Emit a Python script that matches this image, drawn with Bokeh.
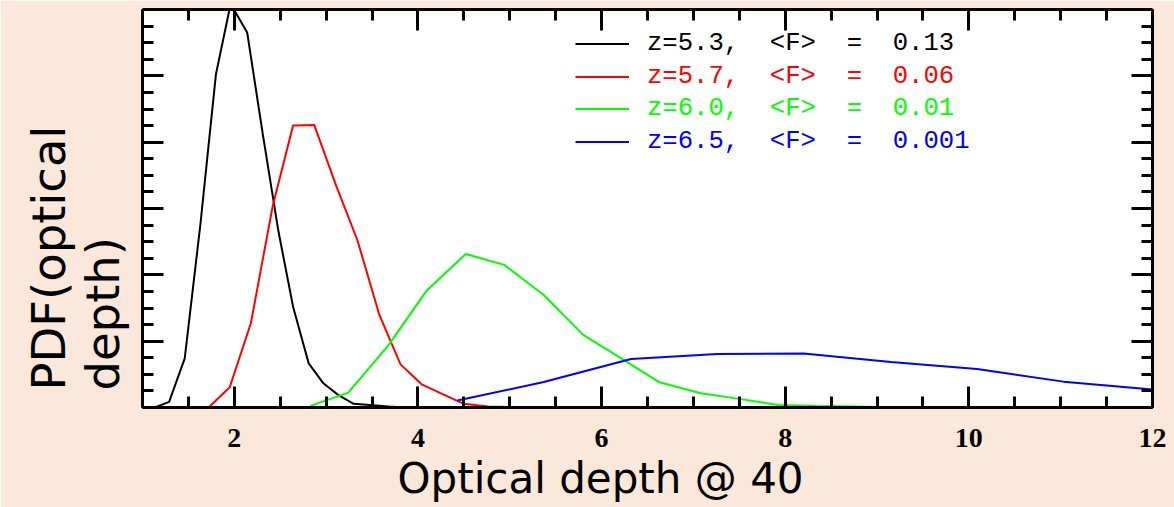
import math
from bokeh.plotting import figure
from bokeh.models import (Range1d, LinearAxis, BoxAnnotation, Title, Legend,
                          LegendItem, SingleIntervalTicker)
from bokeh.embed import file_html
from bokeh.resources import INLINE

# ---- data ----
tau_z53 = [1.135, 1.29, 1.46, 1.63, 1.80, 1.96, 2.14, 2.31, 2.48, 2.64, 2.81, 2.97, 3.13, 3.30, 3.51, 3.68, 3.85]
pdf_z53 = [0.0, 0.017, 0.148, 0.551, 1.005, 1.217, 1.131, 0.824, 0.532, 0.304, 0.133, 0.073, 0.038, 0.011, 0.007, 0.003, 0.0]

tau_z57 = [1.72, 1.95, 2.18, 2.42, 2.64, 2.87, 3.11, 3.34, 3.58, 3.81, 4.04, 4.28, 4.50, 4.76, 5.00, 5.24]
pdf_z57 = [0.0, 0.061, 0.254, 0.61, 0.85, 0.852, 0.668, 0.505, 0.279, 0.130, 0.070, 0.039, 0.011, 0.003, 0.0015, 0.0]

tau_z60 = [2.83, 3.24, 3.68, 4.09, 4.52, 4.94, 5.37, 5.80, 6.21, 6.63, 7.08, 7.50, 7.92, 8.33, 8.75, 9.00]
pdf_z60 = [0.005, 0.045, 0.188, 0.351, 0.463, 0.43, 0.339, 0.219, 0.149, 0.076, 0.043, 0.026, 0.0075, 0.0045, 0.003, 0.0015]

tau_z65 = [4.43, 5.37, 6.32, 7.26, 8.20, 9.15, 10.09, 11.03, 12.0]
pdf_z65 = [0.021, 0.077, 0.146, 0.161, 0.163, 0.137, 0.116, 0.078, 0.054]

series_labels = ["z=5.3,  <F>  =  0.13", "z=5.7,  <F>  =  0.06",
                 "z=6.0,  <F>  =  0.01", "z=6.5,  <F>  =  0.001"]
series_colors = ["#000000", "#ff0000", "#00ff00", "#0000ff"]

x_title = "Optical depth @ 40"
y_title = "PDF(optical\ndepth)"

BEIGE = "#fce8da"

p = figure(width=1174, height=507, x_range=Range1d(1, 12), y_range=Range1d(0, 1.2),
           output_backend="svg", toolbar_location=None,
           min_border_left=142, min_border_right=22, min_border_top=9, min_border_bottom=100,
           background_fill_color="white", border_fill_color=BEIGE, outline_line_color=None)
p.xgrid.visible = False
p.ygrid.visible = False


def style(ax):
    ax.axis_line_width = 3
    ax.axis_line_color = "black"
    ax.major_tick_in = 21
    ax.major_tick_out = 0
    ax.major_tick_line_width = 3
    ax.minor_tick_in = 11
    ax.minor_tick_out = 0
    ax.minor_tick_line_width = 3
    ax.major_label_text_font = "Liberation Serif"
    ax.major_label_text_font_style = "bold"
    ax.major_label_text_font_size = "28px"
    ax.major_label_text_color = "black"


def hide_labels(ax):
    ax.major_label_text_font_size = "2px"
    ax.major_label_text_color = None
    ax.major_label_standoff = 0


xb = p.xaxis[0]
xb.ticker = SingleIntervalTicker(interval=2, num_minor_ticks=4)
style(xb)
xb.major_label_standoff = 21
yl = p.yaxis[0]
yl.ticker = SingleIntervalTicker(interval=0.2, num_minor_ticks=4)
style(yl)
hide_labels(yl)   # the y tick labels are covered by the text box in the reference

top_ax = LinearAxis(ticker=SingleIntervalTicker(interval=2, num_minor_ticks=4))
style(top_ax)
hide_labels(top_ax)
p.add_layout(top_ax, "above")
right_ax = LinearAxis(ticker=SingleIntervalTicker(interval=0.2, num_minor_ticks=4))
style(right_ax)
hide_labels(right_ax)
p.add_layout(right_ax, "right")

# white slide picture behind the plot (canvas pixels, y from top)
p.add_layout(BoxAnnotation(left=25, right=1174, top=0, bottom=498,
                           left_units="canvas", right_units="canvas",
                           top_units="canvas", bottom_units="canvas",
                           fill_color="white", fill_alpha=1, line_color=None, level="image"))

# axis titles as side-panel titles
p.add_layout(Title(text=y_title, align="left", offset=17, standoff=26,
                   text_font="DejaVu Sans", text_font_size="46.5px", text_font_style="normal",
                   text_color="black"), "left")
p.add_layout(Title(text=x_title, align="left", offset=255, standoff=5,
                   text_font="DejaVu Sans", text_font_size="42px", text_font_style="normal",
                   text_color="black", background_fill_color=BEIGE), "below")

xs = [tau_z53, tau_z57, tau_z60, tau_z65]
ys = [pdf_z53, pdf_z57, pdf_z60, pdf_z65]
renderers = []
for xv, yv, c in zip(xs, ys, series_colors):
    renderers.append(p.line(xv, yv, line_color=c, line_width=2))

for i, (r, lab, c) in enumerate(zip(renderers, series_labels, series_colors)):
    center = 43.3 + 32.8 * i
    leg = Legend(items=[LegendItem(label=lab, renderers=[r])],
                 location=(433, 407 - (center + 16.5)), orientation="vertical",
                 padding=0, margin=0, spacing=0, glyph_width=54, glyph_height=33, label_height=33,
                 label_standoff=18, label_text_font="Liberation Mono", label_text_font_size="25.6px",
                 label_text_color=c, label_text_baseline="middle",
                 background_fill_alpha=0, border_line_color=None)
    p.add_layout(leg)

open("out.html", "w").write(file_html(p, INLINE))
